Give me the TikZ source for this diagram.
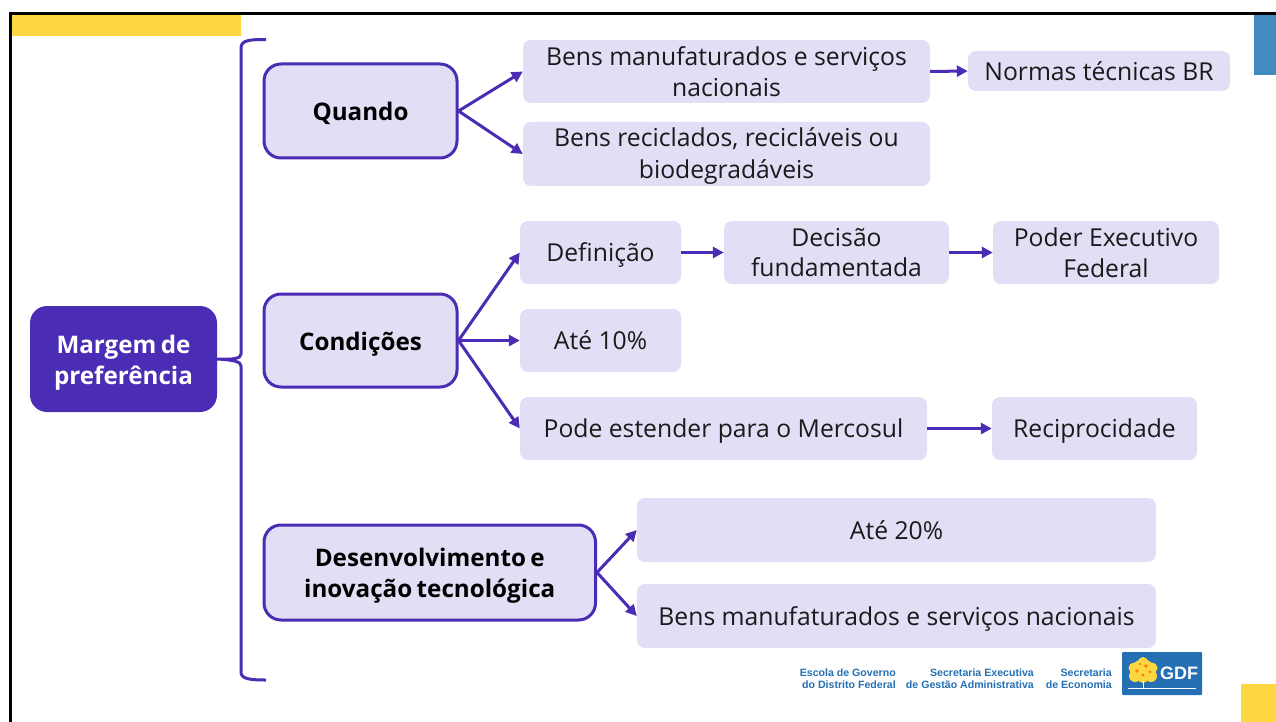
\documentclass[tikz,border=0pt]{standalone}
\usepackage{fontspec}
\setmainfont[BoldFeatures={WordSpace=0.7}]{Open Sans}
\newfontfamily\logofont{Liberation Sans}
\usetikzlibrary{arrows.meta}
\definecolor{deep}{HTML}{4A2DB4}
\definecolor{pale}{HTML}{E2DEF5}
\definecolor{gold}{HTML}{FCD741}
\definecolor{skyb}{HTML}{428BC1}
\definecolor{logob}{HTML}{2570B4}
\definecolor{inkk}{HTML}{1A1A1A}
\tikzset{
  x=1pt,y=-1pt,
  leaf/.style={fill=pale,rounded corners=8pt,align=center,inner sep=0pt,text=inkk,font=\fontsize{24.7}{30.5}\selectfont},
  single/.style={leaf,text height=22pt,text depth=4pt},
  head/.style={draw=deep,line width=3pt,fill=pale,rounded corners=17pt,align=center,inner sep=0pt,text=black,font=\fontsize{24.2}{31}\selectfont\bfseries},
  root/.style={fill=deep,rounded corners=17pt,align=center,inner sep=0pt,text=white,font=\fontsize{24.2}{31}\selectfont\bfseries},
  conn/.style={draw=deep,line width=3pt,-{Triangle[length=11pt,width=11pt]}},
  logotxt/.style={inner sep=0pt,text=logob,font=\logofont\bfseries\fontsize{10.6}{12}\selectfont}
}
\newcommand{\bx}[7][leaf]{\node[#1,minimum width=#4-#3,minimum height=#6-#5] (#2) at ({(#3+#4)/2},{(#5+#6)/2}) {#7};}
\begin{document}
\begin{tikzpicture}
\useasboundingbox (0,0) rectangle (1276,722);
\fill[white] (0,0) rectangle (1276,722);
% frame and corner bars
\fill[gold] (11,15) rectangle (241,36.5);
\fill[skyb] (1254,15) rectangle (1276,75);
\fill[gold] (1241,684) rectangle (1276,722);
\draw[black,line width=3pt] (10,722) -- (10,14) -- (1276,14);
% nodes
\bx[root]{m}{30}{217}{306}{412}{\rule{0pt}{26pt}Margem de\\preferência}
\bx[head]{q}{264}{457}{64}{158}{\rule{0pt}{24pt}Quando}
\bx[head]{c}{264}{457}{294}{387}{\rule{0pt}{25pt}Condições}
\bx[head]{d}{264}{595.5}{525}{620}{\rule{0pt}{24pt}Desenvolvimento e\\inovação tecnológica}
\bx{a1}{523}{930}{40}{103}{Bens manufaturados e serviços\\nacionais}
\bx{a2}{523}{930}{122}{186}{\rule{0pt}{23pt}Bens reciclados, recicláveis ou\\[1pt]biodegradáveis}
\bx[single,text height=24pt]{n}{968}{1230}{51}{91}{Normas técnicas BR}
\bx[single]{e1}{520}{681}{221}{284}{Definição}
\bx{e2}{724}{949}{221}{284}{Decisão\\fundamentada}
\bx{e3}{993}{1219}{221}{284}{Poder Executivo\\Federal}
\bx[single]{f}{520}{681}{309}{372}{Até 10\%}
\bx[single]{g1}{520}{927}{397}{460}{Pode estender para o Mercosul}
\bx[single]{g2}{992}{1197}{397}{460}{Reciprocidade}
\bx[single]{h1}{637}{1156}{498}{562}{Até 20\%}
\bx[single]{h2}{637}{1156}{584}{648}{Bens manufaturados e serviços nacionais}
% brace
\coordinate (bt) at (266,39.5);
\coordinate (bb) at (266,680);
\draw[deep,line width=3pt,line join=round] (bt) .. controls (250,39.5) and (241,40) .. (241,48)
  -- (241,354) .. controls (241,358) and (235,360) .. (m.east)
  (m.east) .. controls (235,360) and (241,362) .. (241,366)
  -- (241,672) .. controls (241,679) and (250,680) .. (bb);
% connectors
\foreach \s/\t in {q/a1,q/a2,c/e1,c/f,c/g1,d/h1,d/h2,a1/n,e1/e2,e2/e3,g1/g2}
  \draw[conn] (\s.east) -- (\t.west);
% logo
\node[logotxt,anchor=east,align=right] (t1) at (896,679) {Escola de Governo\\do Distrito Federal};
\node[logotxt,anchor=east,align=right] (t2) at (1034,679) {Secretaria Executiva\\de Gestão Administrativa};
\node[logotxt,anchor=east,align=right] (t3) at (1112,679) {Secretaria\\de Economia};
\fill[logob,rounded corners=1pt] (1122,652) rectangle (1202,695);
\foreach \x/\y/\r in {1143/670/11,1134/668/5.5,1152/668/5.5,1135/676/6,1151/676/6,1143/662/5,1143/678/5}
  \fill[gold] (\x,\y) circle[radius=\r];
\foreach \x/\y/\r in {1137/671/1.8,1146/666/1.8,1143/675/1.6,1150/672/1.6,1140/664/1.3}
  \fill[orange] (\x,\y) circle[radius=\r];
\draw[white,line width=.6pt] (1128,688.5) -- (1196,688.5) (1143,681) -- (1143,688.5);
\node[inner sep=0pt,text=white,font=\logofont\bfseries\fontsize{18}{18}\selectfont] (gdf) at (1179,673) {GDF};
\end{tikzpicture}
\end{document}
